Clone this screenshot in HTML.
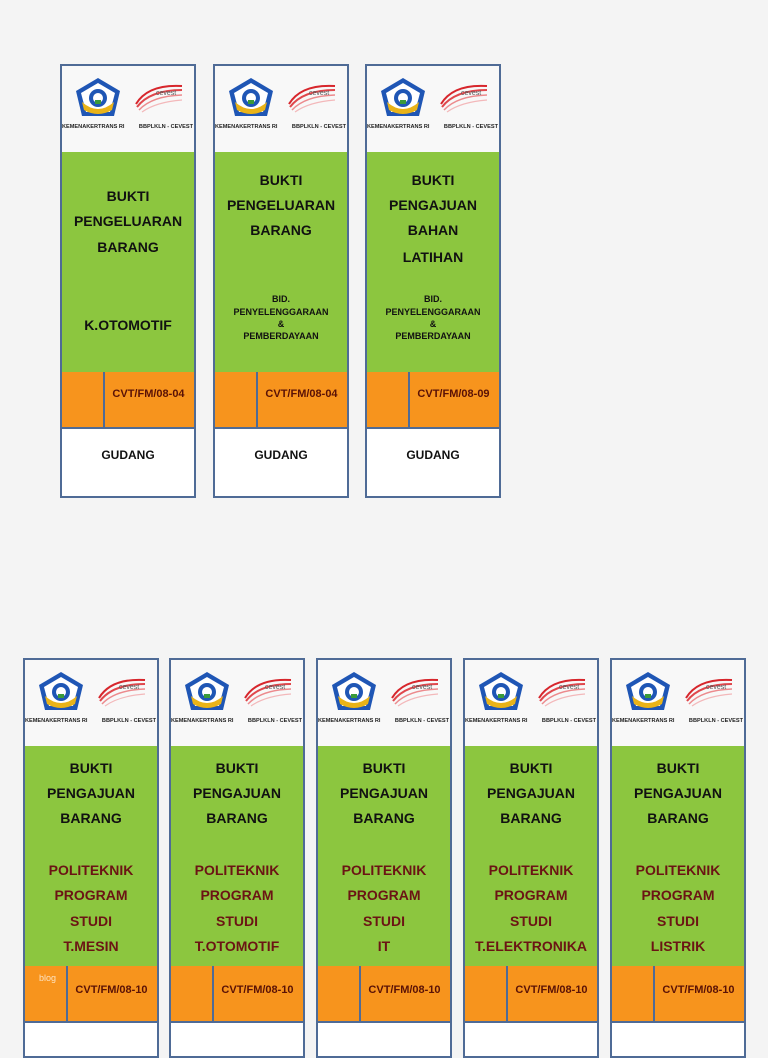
<!DOCTYPE html>
<html><head><meta charset="utf-8">
<style>
html,body{margin:0;padding:0;width:768px;height:1024px;overflow:hidden;background:#f4f4f4;font-family:"Liberation Sans",Arial,sans-serif;}
.card{position:absolute;border:2px solid #4f6b96;box-sizing:border-box;background:#fff;}
.hd{position:absolute;left:0;right:0;top:0;background:#f8f8f8;border-bottom:2px solid #4f6b96;}
.gr{position:absolute;left:0;right:0;background:#8cc63f;border-bottom:2px solid #4f6b96;}
.or{position:absolute;left:0;right:0;background:#f7941d;border-bottom:2px solid #4f6b96;}
.or .sp{position:absolute;top:0;bottom:0;width:2px;background:#4f6b96;}
.t{position:absolute;left:0;right:0;text-align:center;font-weight:bold;white-space:nowrap;}
.lab{position:absolute;top:58px;font-size:5.6px;font-weight:bold;white-space:nowrap;color:#222;}
</style></head><body>
<div id="root"></div>
<script>
(function(){
function logo(){return '<svg style="position:absolute;left:10px;top:10px" width="52" height="46" viewBox="0 0 52 46"><path d="M26 2 L48 15 L42 40 L10 40 L4 15 Z" fill="#1f56b5"/><path d="M26 7 L43 17 L38 36 L14 36 L9 17 Z" fill="#fff"/><circle cx="26" cy="22" r="9" fill="#1f56b5"/><circle cx="26" cy="22" r="5" fill="#fff"/><path d="M10 26 Q26 40 42 26 L40 34 Q26 42 12 34Z" fill="#e9b318"/><rect x="23" y="24" width="6" height="4" fill="#3a9a3a"/></svg>'+
'<svg style="position:absolute;right:10px;top:16px" width="50" height="32" viewBox="0 0 50 32"><path d="M2 22 Q14 2 48 4" stroke="#d7262c" stroke-width="2" fill="none"/><path d="M3 25 Q16 8 48 8" stroke="#e0474c" stroke-width="2" fill="none"/><path d="M5 28 Q18 14 48 13" stroke="#ec8a8d" stroke-width="1.5" fill="none"/><path d="M8 30 Q22 20 48 18" stroke="#f3b8ba" stroke-width="1.2" fill="none"/><text x="22" y="13" font-size="7" fill="#555" font-family="Liberation Sans">cevest</text></svg>';}
function card(x,y,h,lines,cvtText,cvtY,split,gudang){
 var w=136,s='<div class="card" style="left:'+x+'px;top:'+y+'px;width:'+w+'px;height:'+h+'px">';
 s+='<div class="hd" style="height:86px">'+logo()+'<div class="lab" style="left:0">KEMENAKERTRANS RI</div><div class="lab" style="right:1px">BBPLKLN - CEVEST</div></div>';
 s+='<div class="gr" style="top:86px;height:220px">';
 lines.forEach(function(l){s+='<div class="t" style="top:'+(l[0]-y-86-2)+'px;font-size:'+l[2]+'px;line-height:'+(l[2]+2)+'px;color:'+(l[3]||'#111')+';margin-top:-'+(l[2]/2+1)+'px">'+l[1]+'</div>';});
 s+='</div><div class="or" style="top:306px;height:55px"><div class="sp" style="left:'+split+'px"></div><div class="t" style="left:'+split+'px;top:'+(cvtY-y-306-9)+'px;font-size:11px;color:#5a1206">'+cvtText+'</div></div>';
 if(gudang) s+='<div class="t" style="top:382px;font-size:12px;color:#111">GUDANG</div>';
 return s+'</div>';
}
var html='',F=14;
var tops=[
[60,[[196,'BUKTI',F],[221,'PENGELUARAN',F],[247,'BARANG',F],[325,'K.OTOMOTIF',F]],'CVT/FM/08-04'],
[213,[[180,'BUKTI',F],[205,'PENGELUARAN',F],[230,'BARANG',F],[299,'BID.',9],[312,'PENYELENGGARAAN',9],[324,'&amp;',9],[336,'PEMBERDAYAAN',9]],'CVT/FM/08-04'],
[365,[[180,'BUKTI',F],[205,'PENGAJUAN',F],[230,'BAHAN',F],[257,'LATIHAN',F],[299,'BID.',9],[312,'PENYELENGGARAAN',9],[324,'&amp;',9],[336,'PEMBERDAYAAN',9]],'CVT/FM/08-09']];
tops.forEach(function(c){html+=card(c[0],64,434,c[1],c[2],395,41,true);});
var r='#6b1414';
var bot=[[23,'T.MESIN'],[169,'T.OTOMOTIF'],[316,'IT'],[463,'T.ELEKTRONIKA'],[610,'LISTRIK']];
bot.forEach(function(b){html+=card(b[0],658,400,[[768,'BUKTI',F],[793,'PENGAJUAN',F],[818,'BARANG',F],[870,'POLITEKNIK',F,r],[895,'PROGRAM',F,r],[921,'STUDI',F,r],[946,b[1],F,r]],'CVT/FM/08-10',991,41,false);});
html+='<div style="position:absolute;left:39px;top:973px;font-size:9px;color:#fde3c0">blog</div>';
document.getElementById('root').innerHTML=html;
})();
</script>
</body></html>
